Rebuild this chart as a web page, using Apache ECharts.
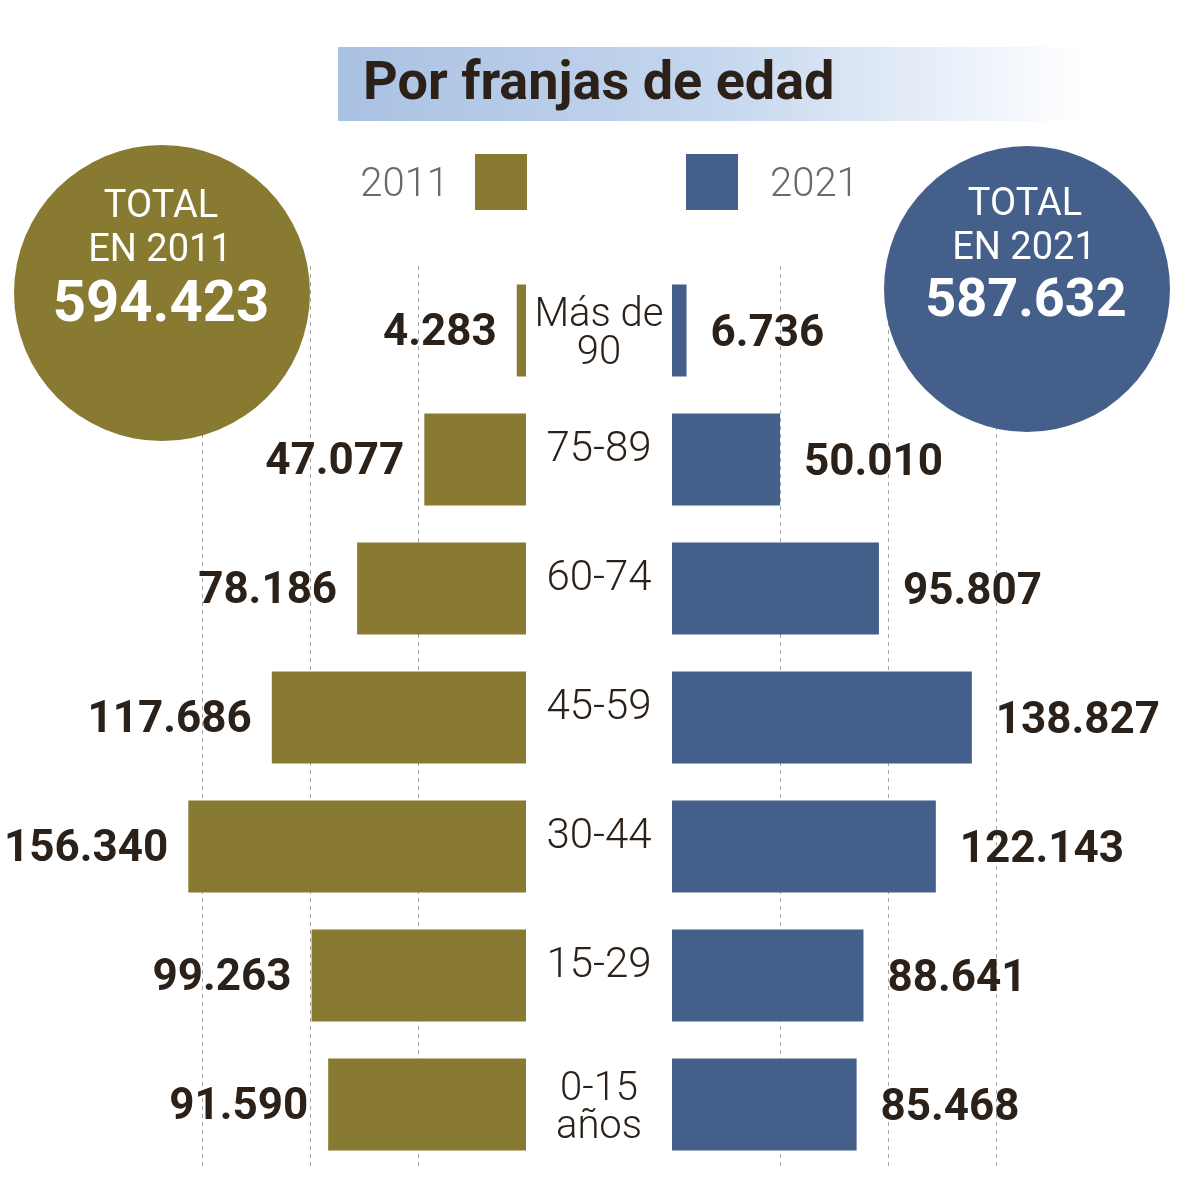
<!DOCTYPE html>
<html>
<head>
<meta charset="utf-8">
<script src="https://cdn.jsdelivr.net/npm/echarts@6/dist/echarts.min.js"></script>
<style>
html,body{margin:0;padding:0;background:#fff;}
#chart{width:1200px;height:1185px;}
</style>
</head>
<body>
<div id="chart"></div>
<script>
const categories = ['Más de\n90', '75-89', '60-74', '45-59', '30-44', '15-29', '0-15\naños'];
const values2011 = [4283, 47077, 78186, 117686, 156340, 99263, 91590];
const values2021 = [6736, 50010, 95807, 138827, 122143, 88641, 85468];
const total2011 = 594423;
const total2021 = 587632;
const gridTicks = [0, 50000, 100000, 150000];

const OLIVE = '#897a31';
const BLUE = '#445f8a';
const DARK = '#2b2118';

function fmt(v) {
  return String(v).replace(/\B(?=(\d{3})+(?!\d))/g, '.');
}

const chart = echarts.init(document.getElementById('chart'));

const xAxisCommon = {
  type: 'value',
  min: 0,
  max: 160000,
  interval: gridTicks[1] - gridTicks[0],
  axisLine: { show: false },
  axisTick: { show: false },
  axisLabel: { show: false },
  splitLine: {
    show: true,
    showMinLine: false,
    showMaxLine: false,
    lineStyle: { color: '#a3a3a3', type: [4, 4], width: 1 }
  }
};

const option = {
  animation: false,
  backgroundColor: '#ffffff',
  grid: [
    { left: 180.4, right: 674, top: 266, bottom: 16 },
    { left: 672, right: 182.4, top: 266, bottom: 16 }
  ],
  xAxis: [
    Object.assign({ gridIndex: 0, inverse: true }, xAxisCommon),
    Object.assign({ gridIndex: 1 }, xAxisCommon)
  ],
  yAxis: [
    {
      gridIndex: 0,
      type: 'category',
      data: categories,
      inverse: true,
      position: 'right',
      axisLine: { show: false },
      axisTick: { show: false },
      splitLine: { show: false },
      axisLabel: {
        show: true,
        margin: 73,
        align: 'center',
        formatter: function (v) {
          if (v.indexOf('\n') >= 0) {
            return v.split('\n').map(function (l) { return '{m|' + l + '}'; }).join('\n');
          }
          return '{s|' + v + '}';
        },
        rich: {
          s: { fontFamily: 'Roboto', fontWeight: 300, fontSize: 42, color: DARK, padding: [0, 0, 18, 0] },
          m: { fontFamily: 'Roboto', fontWeight: 300, fontSize: 40, lineHeight: 38, color: DARK, padding: [8, 0, 0, 0] }
        }
      }
    },
    {
      gridIndex: 1,
      type: 'category',
      data: categories,
      inverse: true,
      show: false
    }
  ],
  series: [
    {
      name: '2011',
      type: 'bar',
      xAxisIndex: 0,
      yAxisIndex: 0,
      data: values2011,
      barWidth: 92,
      itemStyle: { color: OLIVE },
      label: {
        show: true,
        position: 'left',
        distance: 20,
        offset: [0, 3],
        formatter: function (p) { return fmt(p.value); },
        fontFamily: 'Roboto',
        fontWeight: 'bold',
        fontSize: 44,
        color: DARK
      }
    },
    {
      name: '2021',
      type: 'bar',
      xAxisIndex: 1,
      yAxisIndex: 1,
      data: values2021,
      barWidth: 92,
      itemStyle: { color: BLUE },
      label: {
        show: true,
        position: 'right',
        distance: 24,
        offset: [0, 4],
        formatter: function (p) { return fmt(p.value); },
        fontFamily: 'Roboto',
        fontWeight: 'bold',
        fontSize: 44,
        color: DARK
      }
    }
  ],
  graphic: [
    {
      type: 'rect', z: 100,
      shape: { x: 338, y: 47, width: 750, height: 74 },
      style: {
        fill: new echarts.graphic.LinearGradient(0, 0, 1, 0, [
          { offset: 0, color: '#a9c1e2' },
          { offset: 0.5, color: '#c5d6ee' },
          { offset: 1, color: '#ffffff' }
        ])
      }
    },
    {
      type: 'text', z: 101, x: 363, y: 85,
      style: { text: 'Por franjas de edad', fontFamily: 'Roboto', fontWeight: 'bold', fontSize: 54, fill: DARK, verticalAlign: 'middle', align: 'left' }
    },
    {
      type: 'text', z: 101, x: 449, y: 186,
      style: { text: '2011', fontFamily: 'Roboto', fontWeight: 300, fontSize: 40, fill: '#6a6a6a', verticalAlign: 'middle', align: 'right' }
    },
    { type: 'rect', z: 101, shape: { x: 475, y: 154, width: 52, height: 56 }, style: { fill: OLIVE } },
    { type: 'rect', z: 101, shape: { x: 686, y: 154, width: 52, height: 56 }, style: { fill: BLUE } },
    {
      type: 'text', z: 101, x: 770, y: 186,
      style: { text: '2021', fontFamily: 'Roboto', fontWeight: 300, fontSize: 40, fill: '#6a6a6a', verticalAlign: 'middle', align: 'left' }
    },
    { type: 'circle', z: 100, shape: { cx: 162, cy: 293, r: 148 }, style: { fill: OLIVE } },
    {
      type: 'text', z: 101, x: 161, y: 207,
      style: { text: 'TOTAL', fontFamily: 'Roboto', fontSize: 38, fill: '#ffffff', align: 'center', verticalAlign: 'middle' }
    },
    {
      type: 'text', z: 101, x: 160, y: 251,
      style: { text: 'EN 2011', fontFamily: 'Roboto', fontSize: 38, fill: '#ffffff', align: 'center', verticalAlign: 'middle' }
    },
    {
      type: 'text', z: 101, x: 161, y: 306,
      style: { text: fmt(total2011), fontFamily: 'Roboto', fontWeight: 'bold', fontSize: 58, fill: '#ffffff', align: 'center', verticalAlign: 'middle' }
    },
    { type: 'circle', z: 100, shape: { cx: 1027, cy: 289, r: 143 }, style: { fill: BLUE } },
    {
      type: 'text', z: 101, x: 1025, y: 205,
      style: { text: 'TOTAL', fontFamily: 'Roboto', fontSize: 38, fill: '#ffffff', align: 'center', verticalAlign: 'middle' }
    },
    {
      type: 'text', z: 101, x: 1024, y: 249,
      style: { text: 'EN 2021', fontFamily: 'Roboto', fontSize: 38, fill: '#ffffff', align: 'center', verticalAlign: 'middle' }
    },
    {
      type: 'text', z: 101, x: 1026, y: 302,
      style: { text: fmt(total2021), fontFamily: 'Roboto', fontWeight: 'bold', fontSize: 54, fill: '#ffffff', align: 'center', verticalAlign: 'middle' }
    }
  ]
};

chart.setOption(option);
</script>
</body>
</html>
